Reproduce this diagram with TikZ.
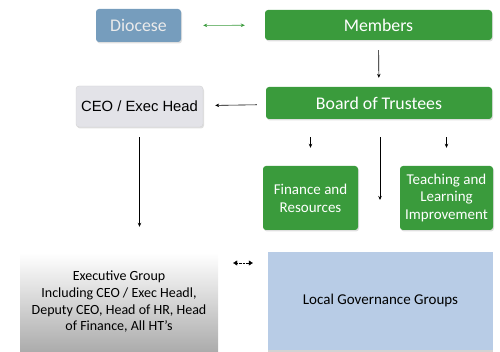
\documentclass[tikz,border=0pt]{standalone}
\usepackage{fontspec}
\setmainfont{Carlito}
\newfontfamily\arialfont{Liberation Sans}
\usetikzlibrary{shapes, arrows.meta, positioning, shadows, calc}
\definecolor{boardgreen}{HTML}{3A9B3C}
\definecolor{diocblue}{HTML}{769DBD}
\definecolor{lgblue}{HTML}{B8CCE6}
\definecolor{ceogrey}{HTML}{E3E3E8}
\tikzset{
    block/.style={rectangle, rounded corners=3pt, fill=boardgreen, text=white, align=center, inner sep=0pt, font=\fontsize{17.8}{20}\selectfont, drop shadow={opacity=0.25, shadow xshift=1pt, shadow yshift=-1.5pt}},
    smallblock/.style={block, font=\fontsize{15}{17.7}\selectfont},
    arrow/.style={semithick, -{Stealth[length=4pt, width=3.5pt]}},
    greenarrow/.style={semithick, draw=boardgreen, {Stealth[length=4pt, width=3.5pt]}-{Stealth[length=4pt, width=3.5pt]}}
}

\begin{document}
\begin{tikzpicture}[x=1pt, y=-1pt]
    \useasboundingbox (0,0) rectangle (500,352);
    \node[block, fill=diocblue, text=white!92!black, minimum width=85pt, minimum height=33pt] (diocese) at (138.5,25.5) {Diocese};
    \node[block, minimum width=227pt, minimum height=30pt] (members) at (378.5,25) {Members};
    \node[block, minimum width=226pt, minimum height=32pt] (board) at (379,103) {Board of Trustees};
    \node[block, fill=ceogrey, draw=gray!35, text=black, font=\arialfont\fontsize{14.8}{17}\selectfont, minimum width=127pt, minimum height=41pt] (ceo) at (139.5,106.5) {CEO / Exec Head};
    \node[smallblock, minimum width=95pt, minimum height=64pt] (finance) at (310.5,198) {Finance and\\Resources};
    \node[smallblock, minimum width=93pt, minimum height=64pt] (teaching) at (446.5,198) {Teaching and\\Learning\\Improvement};
    \node[rectangle, inner sep=0pt, top color=white, bottom color=gray!65, align=center, font=\fontsize{14}{16.7}\selectfont, minimum width=198pt, minimum height=98pt] (exec) at (119,302) {Executive Group\\Including CEO / Exec Headl,\\Deputy CEO, Head of HR, Head\\of Finance, All HT’s};
    \node[rectangle, inner sep=0pt, fill=lgblue, font=\fontsize{15}{18}\selectfont, minimum width=225pt, minimum height=98pt, drop shadow={opacity=0.35, shadow xshift=0pt, shadow yshift=-1.5pt}] (local) at (380.5,301) {Local Governance Groups};
    \coordinate (trustend) at (380,200);
    % connectors
    \draw[greenarrow, shorten <=22pt, shorten >=20pt] (diocese) -- (members);
    \draw[arrow, shorten <=10pt, shorten >=9pt] (members) -- (board);
    \draw[arrow, shorten <=9pt, shorten >=12pt] (board) -- (ceo);
    \draw[arrow, shorten <=10pt, shorten >=26pt] (ceo) -- (exec.north -| ceo);
    \draw[arrow, shorten <=18pt, shorten >=18pt] (board.south -| finance) -- (finance);
    \draw[arrow, shorten <=18pt, shorten >=18pt] (board.south -| teaching) -- (teaching);
    \draw[arrow, shorten <=18pt] (board.south -| trustend) -- (trustend);
    \draw[densely dotted, {Triangle[length=4pt, width=5pt]}-{Triangle[length=4pt, width=5pt]}, shorten <=15pt, shorten >=15pt] (exec.north east |- 0,263) -- (local.north west |- 0,263);
\end{tikzpicture}
\end{document}
